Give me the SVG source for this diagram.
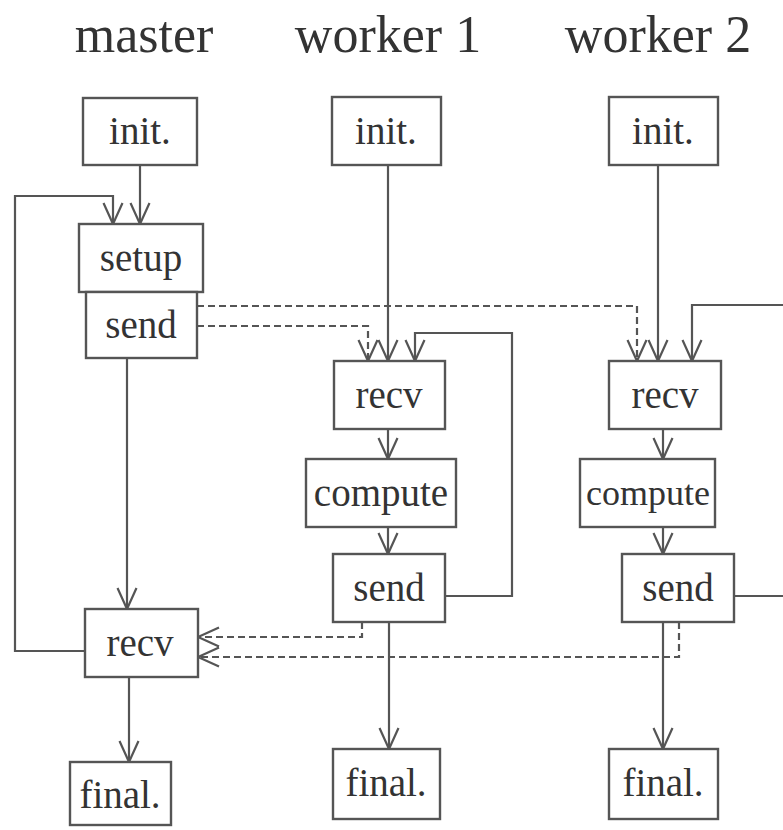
<svg xmlns="http://www.w3.org/2000/svg" width="783" height="830" viewBox="0 0 783 830">
<style>
  .box { fill: #fff; stroke: #555; stroke-width: 2.4; }
  .lbl { font-family: "Liberation Serif", "Times New Roman", serif; font-size: 39px; fill: #333; text-anchor: middle; }
  .sm { font-size: 36px; }
  .ttl { font-family: "Liberation Serif", "Times New Roman", serif; font-size: 52px; fill: #333; text-anchor: middle; }
  .ln { fill: none; stroke: #555; stroke-width: 2.2; }
  .dash { fill: none; stroke: #555; stroke-width: 2.2; stroke-dasharray: 7 4; }
</style>
<defs>
  <marker id="ah" markerWidth="24" markerHeight="24" viewBox="-22 -12 24 24" refX="0" refY="0" orient="auto" markerUnits="userSpaceOnUse">
    <path d="M -21 -9.5 L 0 0 L -21 9.5" fill="none" stroke="#555" stroke-width="2.2"/>
  </marker>
</defs>
<g id="titles">
  <text class="ttl" x="144" y="52">master</text>
  <text class="ttl" x="388" y="52">worker 1</text>
  <text class="ttl" x="658" y="52">worker 2</text>
</g>
<g id="connectors">
  <path class="ln" d="M140 165 V224" marker-end="url(#ah)"/>
  <path class="ln" d="M85 651 H15 V196 H113 V224" marker-end="url(#ah)"/>
  <path class="ln" d="M127 358 V609" marker-end="url(#ah)"/>
  <path class="ln" d="M129 677 V762" marker-end="url(#ah)"/>
  <path class="ln" d="M388 165 V361" marker-end="url(#ah)"/>
  <path class="ln" d="M388 429 V459" marker-end="url(#ah)"/>
  <path class="ln" d="M388 527 V554" marker-end="url(#ah)"/>
  <path class="ln" d="M445 596 H512 V333 H415 V361" marker-end="url(#ah)"/>
  <path class="ln" d="M389 622 V749" marker-end="url(#ah)"/>
  <path class="ln" d="M658 165 V361" marker-end="url(#ah)"/>
  <path class="ln" d="M663 429 V459" marker-end="url(#ah)"/>
  <path class="ln" d="M663 527 V554" marker-end="url(#ah)"/>
  <path class="ln" d="M734 596 H783"/>
  <path class="ln" d="M783 305 H692 V361" marker-end="url(#ah)"/>
  <path class="ln" d="M663 622 V749" marker-end="url(#ah)"/>
  <path class="dash" d="M197 306 H637 V361" marker-end="url(#ah)"/>
  <path class="dash" d="M197 326 H368 V361" marker-end="url(#ah)"/>
  <path class="dash" d="M362 622 V637 H198" marker-end="url(#ah)"/>
  <path class="dash" d="M679 622 V657 H198" marker-end="url(#ah)"/>
</g>
<g id="m-init"><rect class="box" x="83" y="98" width="114" height="67"/><text class="lbl" x="140" y="144">init.</text></g>
<g id="m-setup"><rect class="box" x="79" y="224" width="124" height="68"/><text class="lbl" x="141" y="271">setup</text></g>
<g id="m-send"><rect class="box" x="86" y="292" width="111" height="66"/><text class="lbl" x="141" y="338">send</text></g>
<g id="m-recv"><rect class="box" x="85" y="609" width="113" height="68"/><text class="lbl" x="140" y="656">recv</text></g>
<g id="m-final"><rect class="box" x="70" y="762" width="101" height="63"/><text class="lbl" x="120" y="808">final.</text></g>
<g id="w1-init"><rect class="box" x="332" y="97" width="109" height="68"/><text class="lbl" x="386" y="144">init.</text></g>
<g id="w1-recv"><rect class="box" x="334" y="361" width="111" height="68"/><text class="lbl" x="389" y="408">recv</text></g>
<g id="w1-compute"><rect class="box" x="306" y="459" width="150" height="68"/><text class="lbl" x="381" y="506">compute</text></g>
<g id="w1-send"><rect class="box" x="333" y="554" width="112" height="68"/><text class="lbl" x="389" y="601">send</text></g>
<g id="w1-final"><rect class="box" x="333" y="749" width="107" height="70"/><text class="lbl" x="386" y="796">final.</text></g>
<g id="w2-init"><rect class="box" x="609" y="97" width="109" height="68"/><text class="lbl" x="663" y="144">init.</text></g>
<g id="w2-recv"><rect class="box" x="609" y="361" width="112" height="68"/><text class="lbl" x="665" y="408">recv</text></g>
<g id="w2-compute"><rect class="box" x="580" y="459" width="135" height="68"/><text class="lbl sm" x="648" y="505">compute</text></g>
<g id="w2-send"><rect class="box" x="622" y="554" width="112" height="68"/><text class="lbl" x="678" y="601">send</text></g>
<g id="w2-final"><rect class="box" x="609" y="749" width="109" height="70"/><text class="lbl" x="663" y="796">final.</text></g>
</svg>
